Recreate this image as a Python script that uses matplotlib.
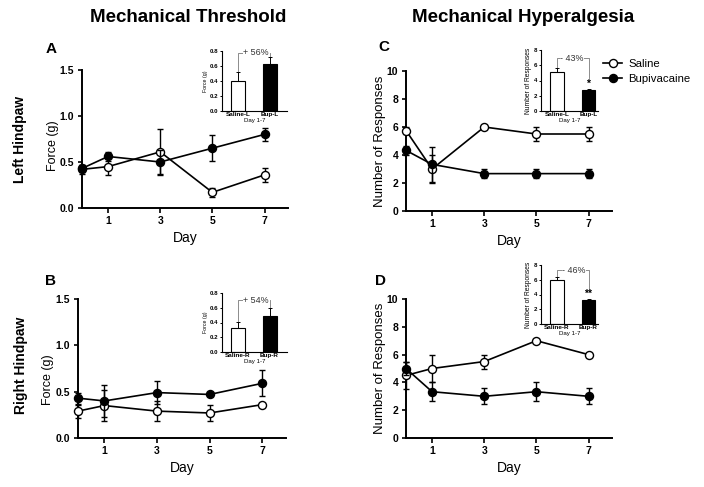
import matplotlib
matplotlib.use('Agg')
import matplotlib.pyplot as plt
from matplotlib.lines import Line2D

plt.rcParams['font.family'] = ['Liberation Sans', 'DejaVu Sans']

days = [0, 1, 3, 5, 7]
day_ticks = [1, 3, 5, 7]

# Panel A: left hindpaw, mechanical threshold (g)
A_sal = [0.42, 0.45, 0.61, 0.17, 0.36]
A_sal_err = [0.05, 0.09, 0.25, 0.05, 0.08]
A_bup = [0.43, 0.56, 0.50, 0.65, 0.80]
A_bup_err = [0.04, 0.05, 0.13, 0.14, 0.07]
# Panel B: right hindpaw, mechanical threshold (g)
B_sal = [0.29, 0.35, 0.29, 0.27, 0.36]
B_sal_err = [0.07, 0.17, 0.11, 0.09, 0.02]
B_bup = [0.43, 0.40, 0.49, 0.47, 0.59]
B_bup_err = [0.06, 0.17, 0.12, 0.02, 0.14]
# Panel C: left hindpaw, hyperalgesia (responses)
C_sal = [5.75, 3.0, 6.0, 5.5, 5.5]
C_sal_err = [0.25, 1.0, 0.1, 0.5, 0.5]
C_bup = [4.33, 3.33, 2.67, 2.67, 2.67]
C_bup_err = [0.3, 1.25, 0.33, 0.33, 0.33]
# Panel D: right hindpaw, hyperalgesia (responses)
D_sal = [4.5, 5.0, 5.5, 7.0, 6.0]
D_sal_err = [1.0, 1.0, 0.5, 0.0, 0.0]
D_bup = [5.0, 3.33, 3.0, 3.33, 3.0]
D_bup_err = [0.5, 0.67, 0.58, 0.67, 0.58]

# Insets: mean over days 1-7
insA_cats = ['Saline-L', 'Bup-L']
insA_vals = [0.40, 0.63]
insA_errs = [0.12, 0.09]
insB_cats = ['Saline-R', 'Bup-R']
insB_vals = [0.32, 0.49]
insB_errs = [0.09, 0.11]
insC_cats = ['Saline-L', 'Bup-L']
insC_vals = [5.05, 2.8]
insC_errs = [0.65, 0.15]
insD_cats = ['Saline-R', 'Bup-R']
insD_vals = [5.9, 3.3]
insD_errs = [0.45, 0.1]

force_ticks = [0.0, 0.5, 1.0, 1.5]
force_ticklabels = ['0.0', '0.5', '1.0', '1.5']
resp_ticks = [0, 2, 4, 6, 8, 10]
resp_ticklabels = ['0', '2', '4', '6', '8', '10']
ins_force_ticks = [0.0, 0.2, 0.4, 0.6, 0.8]
ins_force_ticklabels = ['0.0', '0.2', '0.4', '0.6', '0.8']
ins_resp_ticks = [0, 2, 4, 6, 8]
ins_resp_ticklabels = ['0', '2', '4', '6', '8']

W, H = 704, 487
fig = plt.figure(figsize=(W / 100, H / 100), dpi=100)


def rect(left, right, ybot, ytop):
    return [left / W, (H - ybot) / H, (right - left) / W, (ybot - ytop) / H]


def main_panel(r, sal, sal_err, bup, bup_err, ylim, yticks, yticklabels):
    ax = fig.add_axes(r)
    ax.errorbar(days, sal, yerr=sal_err, fmt='-o', color='black', mfc='white',
                mec='black', ms=5.8, mew=1.0, lw=1.2, elinewidth=1.0,
                capsize=2.4, capthick=1.0, zorder=3)
    ax.errorbar(days, bup, yerr=bup_err, fmt='-o', color='black', mfc='black',
                mec='black', ms=5.8, mew=1.0, lw=1.2, elinewidth=1.0,
                capsize=2.4, capthick=1.0, zorder=4)
    for art in ax.get_children():
        try:
            art.set_clip_on(False)
        except Exception:
            pass
    ax.set_xlim(0, 7.9)
    ax.set_ylim(*ylim)
    ax.set_xticks(day_ticks)
    ax.set_xticklabels([str(d) for d in day_ticks], fontweight='bold', fontsize=7.5)
    ax.set_yticks(yticks)
    ax.set_yticklabels(yticklabels, fontweight='bold', fontsize=7.5)
    for s in ['top', 'right']:
        ax.spines[s].set_visible(False)
    for s in ['left', 'bottom']:
        ax.spines[s].set_linewidth(1.4)
    ax.tick_params(axis='x', direction='out', width=1.2, length=3.6, pad=2.5)
    ax.tick_params(axis='y', direction='out', width=1.2, length=3.0, pad=2.5)
    ax.set_facecolor('none')
    return ax


def inset_panel(r, cats, vals, errs, ylim, yticks, yticklabels, ylabel,
                ylabel_size, xmax, pct, pct_x, bracket_y, arm_right_low, star):
    ax = fig.add_axes(r)
    x = [0, 1]
    ax.bar(x, vals, width=0.44, color=['white', 'black'], edgecolor='black',
           linewidth=0.8, zorder=2)
    ax.errorbar(x, vals, yerr=[[0, 0], errs], fmt='none', ecolor='black',
                elinewidth=0.7, capsize=1.6, capthick=0.7, zorder=3)
    # bracket
    left_low = vals[0] + errs[0]
    ax.plot([0, 0, 1, 1], [left_low, bracket_y, bracket_y, arm_right_low],
            color='#7a7a7a', lw=0.6, zorder=1, clip_on=False)
    ax.text(pct_x, bracket_y, pct, ha='center', va='center', fontsize=6.4,
            color='#333333', bbox=dict(facecolor='white', edgecolor='none', pad=0.3),
            zorder=4, clip_on=False)
    if star:
        ax.text(1, vals[1] + errs[1], star,
                ha='center', va='bottom', fontsize=7.5, fontweight='bold')
    ax.set_xlim(-0.5, xmax)
    ax.set_ylim(*ylim)
    ax.set_xticks(x)
    ax.set_xticklabels(cats, fontweight='bold', fontsize=4.6)
    ax.set_yticks(yticks)
    ax.set_yticklabels(yticklabels, fontweight='bold', fontsize=4.4)
    ax.set_xlabel('Day 1-7', fontsize=4.4, labelpad=0.5)
    ax.set_ylabel(ylabel, fontsize=ylabel_size, labelpad=1.5)
    for s in ['top', 'right']:
        ax.spines[s].set_visible(False)
    for s in ['left', 'bottom']:
        ax.spines[s].set_linewidth(0.8)
    ax.tick_params(axis='x', length=0, pad=1)
    ax.tick_params(axis='y', direction='out', width=0.7, length=1.6, pad=1)
    ax.set_facecolor('none')
    return ax


axA = main_panel(rect(82, 288, 208, 70), A_sal, A_sal_err, A_bup, A_bup_err,
                 (0, 1.5), force_ticks, force_ticklabels)
axB = main_panel(rect(78, 286, 438, 299), B_sal, B_sal_err, B_bup, B_bup_err,
                 (0, 1.5), force_ticks, force_ticklabels)
axC = main_panel(rect(406, 612, 211, 71), C_sal, C_sal_err, C_bup, C_bup_err,
                 (0, 10), resp_ticks, resp_ticklabels)
axD = main_panel(rect(406, 612, 438, 299), D_sal, D_sal_err, D_bup, D_bup_err,
                 (0, 10), resp_ticks, resp_ticklabels)

for ax in (axA, axB, axC, axD):
    ax.text(0.5, -0.215, 'Day', transform=ax.transAxes, ha='center',
            va='center', fontsize=10)

axA.text(-0.14, 0.45, 'Force (g)', transform=axA.transAxes, rotation=90,
         ha='center', va='center', fontsize=9)
axB.text(-0.145, 0.42, 'Force (g)', transform=axB.transAxes, rotation=90,
         ha='center', va='center', fontsize=9)
axC.text(-0.128, 0.50, 'Number of Responses', transform=axC.transAxes,
         rotation=90, ha='center', va='center', fontsize=9.5)
axD.text(-0.128, 0.50, 'Number of Responses', transform=axD.transAxes,
         rotation=90, ha='center', va='center', fontsize=9.5)

inset_panel(rect(222, 287, 111, 51), insA_cats, insA_vals, insA_errs, (0, 0.8),
            ins_force_ticks, ins_force_ticklabels, 'Force (g)', 3.8, 1.55,
            '+ 56%', 0.58, 0.78, insA_vals[1] + insA_errs[1], None)
inset_panel(rect(222, 287, 352, 293), insB_cats, insB_vals, insB_errs, (0, 0.8),
            ins_force_ticks, ins_force_ticklabels, 'Force (g)', 3.8, 1.55,
            '+ 54%', 0.58, 0.70, insB_vals[1] + insB_errs[1], None)
inset_panel(rect(541, 598, 111, 50), insC_cats, insC_vals, insC_errs, (0, 8),
            ins_resp_ticks, ins_resp_ticklabels, 'Number of Responses', 4.8, 1.3,
            '- 43%', 0.48, 6.9, 4.3, '*')
inset_panel(rect(541, 598, 324, 265), insD_cats, insD_vals, insD_errs, (0, 8),
            ins_resp_ticks, ins_resp_ticklabels, 'Number of Responses', 4.8, 1.3,
            '- 46%', 0.55, 7.3, 4.8, '**')

# titles, panel letters and row labels
fig.text(188 / W, 1 - 17 / H, 'Mechanical Threshold', ha='center', va='center',
         fontsize=13.5, fontweight='bold')
fig.text(523 / W, 1 - 17 / H, 'Mechanical Hyperalgesia', ha='center',
         va='center', fontsize=13.5, fontweight='bold')
for lbl, x, y in [('A', 51, 49), ('C', 384, 47), ('B', 51, 281), ('D', 380, 281)]:
    fig.text(x / W, 1 - y / H, lbl, ha='center', va='center', fontsize=11,
             fontweight='bold')
fig.text(20.5 / W, 1 - 139 / H, 'Left Hindpaw', rotation=90, ha='center',
         va='center', fontsize=10, fontweight='bold')
fig.text(21 / W, 1 - 365 / H, 'Right Hindpaw', rotation=90, ha='center',
         va='center', fontsize=10, fontweight='bold')

handles = [
    Line2D([], [], color='black', lw=1.2, marker='o', ms=5.8, mfc='white', mec='black'),
    Line2D([], [], color='black', lw=1.2, marker='o', ms=5.8, mfc='black', mec='black'),
]
fig.legend(handles, ['Saline', 'Bupivacaine'], loc='upper left',
           bbox_to_anchor=(603 / W, 1 - 59 / H), frameon=False, fontsize=8.2,
           handlelength=1.7, handletextpad=0.5, labelspacing=0.45,
           borderpad=0, borderaxespad=0)

fig.savefig('out.png', dpi=100)
